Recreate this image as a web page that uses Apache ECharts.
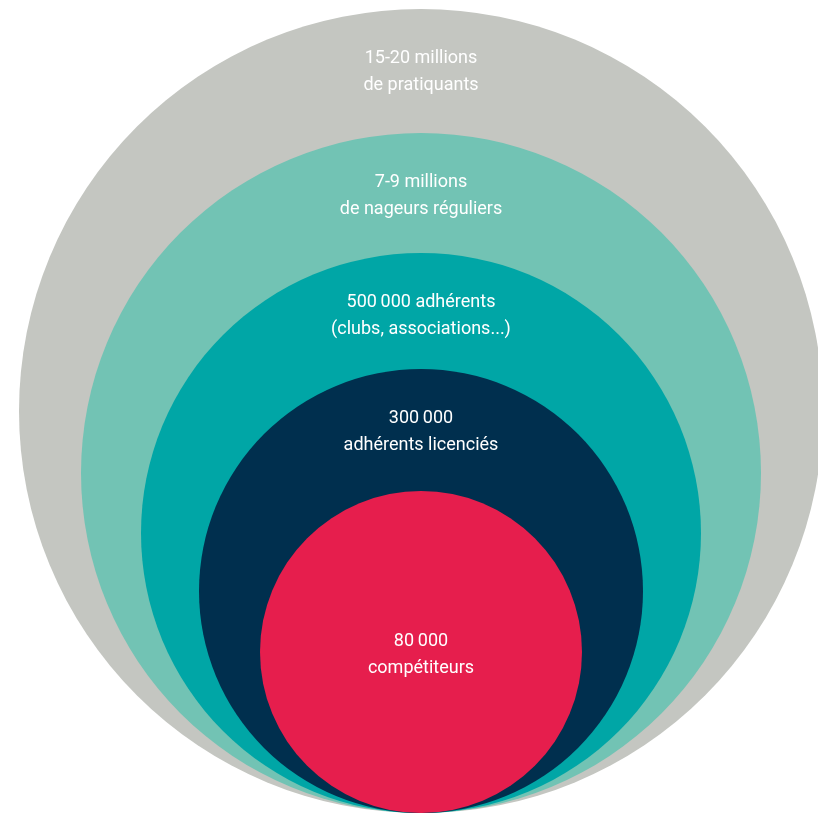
<!DOCTYPE html>
<html lang="fr">
<head>
<meta charset="UTF-8">
<title>Nageurs</title>
<style>
  html, body { margin: 0; padding: 0; background: #fff; }
  #main { width: 818px; height: 817px; }
</style>
</head>
<body>
<div id="main"></div>
<script src="https://cdn.jsdelivr.net/npm/echarts@6/dist/echarts.min.js"></script>
<script>
// cercles emboîtés, du plus grand au plus petit
var levels = ['15-20 millions\nde pratiquants', '7-9 millions\nde nageurs réguliers',
  '500\u2009000 adhérents\n(clubs, associations...)', '300\u2009000\nadhérents licenciés',
  '80\u2009000\ncompétiteurs'];
var radii = [402, 340, 280, 222, 161];
var colors = ['#c4c6c1', '#72c3b4', '#00a6a6', '#002f4e', '#e61e4d'];

var centerX = 421;
var baseY = 813; // point de tangence en bas

var chart = echarts.init(document.getElementById('main'));

chart.setOption({
  animation: false,
  grid: { left: 0, right: 0, top: 0, bottom: 0 },
  xAxis: { type: 'value', min: 0, max: 818, show: false },
  yAxis: { type: 'value', min: 0, max: 817, inverse: true, show: false },
  series: [{
    type: 'custom',
    data: radii.map(function (r, i) { return [centerX, baseY - r, r, i]; }),
    renderItem: function (params, api) {
      var i = api.value(3);
      var c = api.coord([api.value(0), api.value(1)]);
      var r = api.size([api.value(2), api.value(2)])[0];
      // le dernier cercle porte son texte au centre, les autres en haut
      var ty = i === radii.length - 1 ? c[1] + 3 : c[1] - r + 63;
      return {
        type: 'group',
        children: [{
          type: 'circle',
          shape: { cx: c[0], cy: c[1], r: r },
          style: { fill: colors[i] }
        }, {
          type: 'text',
          x: c[0], y: ty,
          style: {
            text: levels[i],
            fill: '#ffffff',
            font: '18px "Liberation Sans Narrow", "Roboto", sans-serif',
            lineHeight: 27,
            align: 'center',
            verticalAlign: 'middle'
          }
        }]
      };
    }
  }]
});
</script>
</body>
</html>
